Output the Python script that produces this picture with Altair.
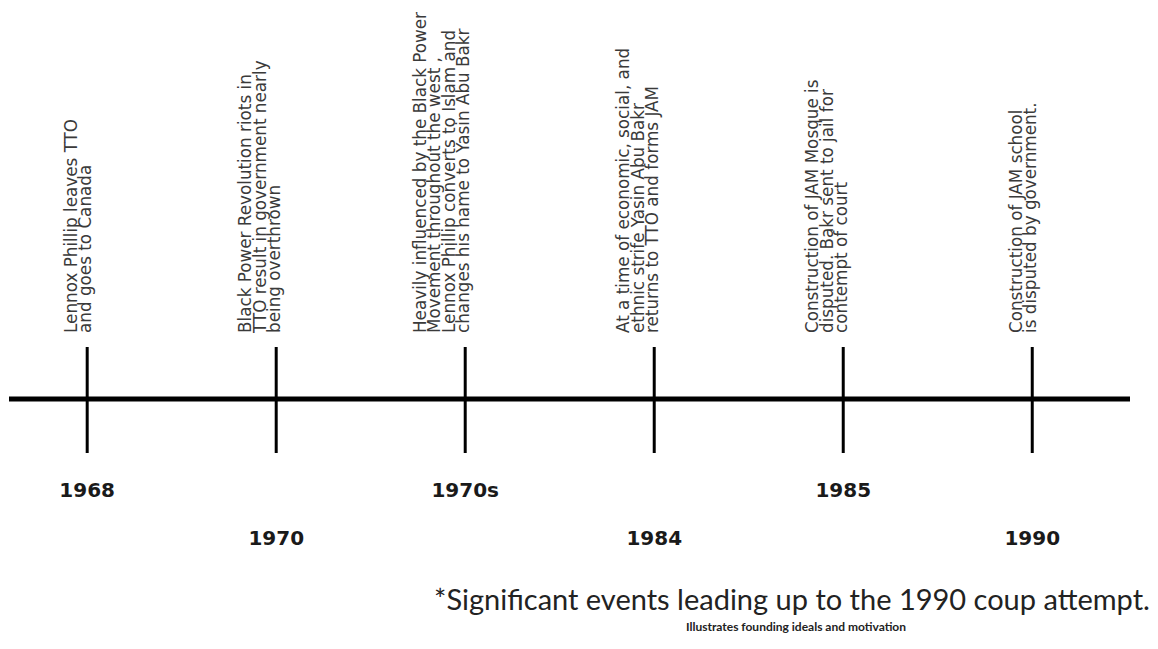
import altair as alt
import pandas as pd

# ---- data ----
years = ["1968", "1970", "1970s", "1984", "1985", "1990"]
slot = [0, 1, 2, 3, 4, 5]
row = [0, 1, 0, 1, 0, 1]
events = [
    "Lennox Phillip leaves TTO\nand goes to Canada",
    "Black Power Revolution riots in\nTTO result in government nearly\nbeing overthrown",
    "Heavily influenced by the Black Power\nMovement throughout the west ,\nLennox Phillip converts to Islam and\nchanges his name to Yasin Abu Bakr",
    "At a time of economic, social, and\nethnic  strife Yasin Abu Bakr\nreturns to TTO and forms JAM",
    "Construction of JAM Mosque is\ndisputed. Bakr sent to jail for\ncontempt of court",
    "Construction of JAM school\nis disputed by government.",
]
caption = ["*Significant events leading up to the 1990 coup attempt."]
subcaption = ["Illustrates founding ideals and motivation"]

df = pd.DataFrame({"slot": slot, "year": years, "event": events, "row": row})
one = pd.DataFrame({"k": [0]})

W, H = 1142, 633
LH = 14.5
xscale = alt.Scale(domain=[-0.419, 5.623], nice=False, zero=False)
X = alt.X("slot:Q", scale=xscale, axis=None)

base = alt.Chart(df)

axis_line = alt.Chart(one).mark_rule(color="black", strokeWidth=5).encode(
    x=alt.value(1), x2=alt.value(1122), y=alt.value(391)
)

ticks = base.mark_rule(color="black", strokeWidth=3).encode(
    x=X, y=alt.value(339), y2=alt.value(445)
)

year_labels = base.mark_text(
    font="DejaVu Sans", fontWeight="bold", fontSize=20, align="center",
    baseline="alphabetic", color="#1a1a1a"
).encode(
    x=X,
    y=alt.Y("row:Q", scale=alt.Scale(domain=[0, 1], range=[489, 537]), axis=None),
    text="year:N",
)

# rotated multi-line labels: lines stack to the right of the anchor, so each
# group (by number of lines) is shifted so that its last line sits on the tick
event_layers = []
for n in [2, 3, 4]:
    event_layers.append(
        base.transform_calculate(
            nl="length(split(datum.event, '\\n'))"
        ).transform_filter(
            alt.datum.nl == n
        ).mark_text(
            font="DejaVu Sans", fontSize=16.8, angle=270, align="left",
            baseline="bottom", lineBreak="\n", lineHeight=LH,
            dy=8 - (n - 1) * LH, color="#3a3a3a"
        ).encode(x=X, y=alt.value(325), text="event:N")
    )

cap = alt.Chart(pd.DataFrame({"t": caption})).mark_text(
    font="Lato", fontSize=29, align="center", baseline="alphabetic", color="#222222"
).encode(x=alt.value(784), y=alt.value(602), text="t:N")

subcap = alt.Chart(pd.DataFrame({"t": subcaption})).mark_text(
    font="Lato", fontSize=12, fontWeight="bold", align="center",
    baseline="alphabetic", color="#222222"
).encode(x=alt.value(788), y=alt.value(623), text="t:N")

chart = alt.layer(axis_line, ticks, year_labels, *event_layers, cap, subcap).properties(
    width=W, height=H, autosize=alt.AutoSizeParams(type="none"), padding=0,
    background="white"
).configure_view(stroke=None)

chart.save("out.html", embed_options={"renderer": "svg", "actions": False})
